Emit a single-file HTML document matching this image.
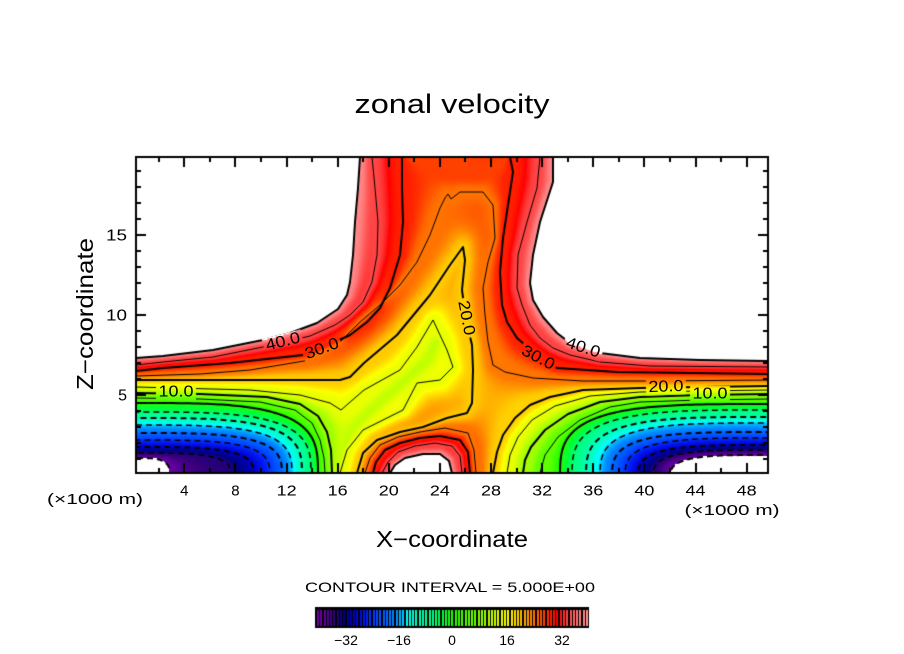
<!DOCTYPE html>
<html><head><meta charset="utf-8">
<style>
html,body{margin:0;padding:0;background:#fff;}
#wrap{position:relative;width:904px;height:654px;overflow:hidden;background:#fff;}
canvas{position:absolute;left:0;top:0;}
svg{position:absolute;left:0;top:0;}
text{font-family:"Liberation Sans",sans-serif;fill:#000;}
</style></head><body>
<div id="wrap">
<canvas id="c" width="904" height="654"></canvas>
<svg width="904" height="654" viewBox="0 0 904 654">
<text x="452" y="113" font-size="27" text-anchor="middle" textLength="195" lengthAdjust="spacingAndGlyphs">zonal velocity</text>
<g font-size="15" text-anchor="middle">
<text x="184.3" y="495.5">4</text>
<text x="235.4" y="495.5">8</text>
<text x="286.6" y="495.5" textLength="20" lengthAdjust="spacingAndGlyphs">12</text>
<text x="337.7" y="495.5" textLength="20" lengthAdjust="spacingAndGlyphs">16</text>
<text x="388.8" y="495.5" textLength="20" lengthAdjust="spacingAndGlyphs">20</text>
<text x="439.9" y="495.5" textLength="20" lengthAdjust="spacingAndGlyphs">24</text>
<text x="491.0" y="495.5" textLength="20" lengthAdjust="spacingAndGlyphs">28</text>
<text x="542.2" y="495.5" textLength="20" lengthAdjust="spacingAndGlyphs">32</text>
<text x="593.3" y="495.5" textLength="20" lengthAdjust="spacingAndGlyphs">36</text>
<text x="644.4" y="495.5" textLength="20" lengthAdjust="spacingAndGlyphs">40</text>
<text x="695.5" y="495.5" textLength="20" lengthAdjust="spacingAndGlyphs">44</text>
<text x="746.6" y="495.5" textLength="20" lengthAdjust="spacingAndGlyphs">48</text>
</g>
<g font-size="16" text-anchor="end">
<text x="127" y="400.5">5</text>
<text x="127" y="320.5" textLength="21" lengthAdjust="spacingAndGlyphs">10</text>
<text x="127" y="240.5" textLength="21" lengthAdjust="spacingAndGlyphs">15</text>
</g>
<text x="95" y="504" font-size="15" text-anchor="middle" textLength="96" lengthAdjust="spacingAndGlyphs">(×1000 m)</text>
<text x="732" y="515" font-size="15" text-anchor="middle" textLength="95" lengthAdjust="spacingAndGlyphs">(×1000 m)</text>
<text x="452" y="547" font-size="23" text-anchor="middle" textLength="152" lengthAdjust="spacingAndGlyphs">X−coordinate</text>
<text transform="translate(93,314) rotate(-90)" font-size="23" text-anchor="middle" textLength="152" lengthAdjust="spacingAndGlyphs">Z−coordinate</text>
<text x="450" y="592" font-size="14" text-anchor="middle" textLength="290" lengthAdjust="spacingAndGlyphs">CONTOUR INTERVAL = 5.000E+00</text>
<g font-size="14" text-anchor="middle">
<text x="346" y="645">−32</text>
<text x="399" y="645">−16</text>
<text x="452" y="645">0</text>
<text x="507" y="645">16</text>
<text x="562" y="645">32</text>
</g>
<g font-size="16" text-anchor="middle" dominant-baseline="central">
<text transform="translate(283,342) rotate(-14)" textLength="35" lengthAdjust="spacingAndGlyphs">40.0</text>
<text transform="translate(322,349) rotate(-20)" textLength="35" lengthAdjust="spacingAndGlyphs">30.0</text>
<text transform="translate(176,392) rotate(0)" textLength="35" lengthAdjust="spacingAndGlyphs">10.0</text>
<text transform="translate(466,318) rotate(79)" textLength="35" lengthAdjust="spacingAndGlyphs">20.0</text>
<text transform="translate(538,358) rotate(28)" textLength="35" lengthAdjust="spacingAndGlyphs">30.0</text>
<text transform="translate(583,348) rotate(18)" textLength="35" lengthAdjust="spacingAndGlyphs">40.0</text>
<text transform="translate(666,387) rotate(-2)" textLength="35" lengthAdjust="spacingAndGlyphs">20.0</text>
<text transform="translate(710,394) rotate(0)" textLength="35" lengthAdjust="spacingAndGlyphs">10.0</text>
</g>
</svg>
</div>
<script>
(function(){
const C=document.getElementById('c');const ctx=C.getContext('2d');
const stops=[
[-42,120,0,170],[-39,100,0,160],[-36,50,0,120],[-33,0,0,128],[-30,0,0,190],[-27,0,20,240],[-24,0,64,255],[-20,0,104,255],[-17,0,144,255],[-15,0,200,255],[-14,0,255,255],[-11,0,255,192],[-6,0,255,128],[-3,0,255,64],[0,32,255,0],[4,80,255,0],[8,128,255,0],[12,192,255,0],[15,232,255,0],[17,255,255,0],[20,255,205,0],[23,255,150,0],[26,255,100,0],[29,255,45,0],[32,255,0,0],[35,255,70,70],[38,255,115,115],[41,255,150,150],[42,255,165,165]];
function cmap(v){
 if(v>41.6||v<-41.6) return [255,255,255];
 if(v<=stops[0][0]) return [stops[0][1],stops[0][2],stops[0][3]];
 for(let i=1;i<stops.length;i++){ if(v<=stops[i][0]){ const a=stops[i-1],b=stops[i]; const t=(v-a[0])/(b[0]-a[0]); return [a[1]+(b[1]-a[1])*t,a[2]+(b[2]-a[2])*t,a[3]+(b[3]-a[3])*t]; } }
 const l=stops[stops.length-1]; return [l[1],l[2],l[3]];
}
const P40L=[[360,157],[358,188],[355,222],[353,255],[350,282],[347,295],[338,309],[317,323],[290,333],[263,340],[213,350],[163,356],[136,358]];
const P40R=[[553,157],[553,182],[540,222],[533,255],[530,283],[533,300],[543,317],[557,333],[570,343],[600,353],[640,358],[700,360],[768,361]];
const P40B=[[390,473],[395,465],[405,458],[423,454],[440,454],[449,461],[452,473]];
const P35L=[[372,157],[375,188],[378,222],[377,255],[372,282],[363,302],[350,315],[335,325],[310,336],[263,347],[213,357],[163,362],[136,365]];
const P35R=[[540,157],[537,188],[527,222],[518,255],[517,288],[522,305],[530,325],[540,338],[553,348],[570,355],[600,362],[650,366],[768,367]];
const P35B=[[382,473],[388,462],[398,452],[415,446],[435,443],[452,446],[460,456],[462,473]];
const P30L=[[402,157],[402,188],[403,222],[400,255],[390,288],[380,308],[367,322],[350,335],[335,342],[303,355],[230,363],[163,368],[136,371]];
const P30R=[[510,157],[513,172],[508,205],[503,238],[500,272],[502,305],[507,322],[517,338],[537,355],[557,368],[617,372],[768,374]];
const P30B=[[373,473],[376,462],[385,450],[400,443],[420,438],[440,436],[460,440],[468,452],[470,473]];
const P25=[[136,376],[200,374],[250,370],[310,360],[340,342],[360,322],[380,305],[400,285],[417,262],[430,235],[440,208],[445,198],[448,194],[451,199],[460,192],[483,192],[493,205],[495,238],[488,262],[483,288],[485,315],[488,342],[493,365],[505,372],[533,378],[583,381],[650,381],[768,380]];
const P25B=[[365,473],[370,458],[380,445],[398,437],[420,432],[445,428],[468,433],[474,450],[476,473]];
const P20=[[136,380],[250,380],[340,380],[350,377],[364,363],[397,335],[430,295],[450,265],[463,247],[465,260],[462,290],[466,320],[472,345],[473,370],[472,403],[467,413],[447,418],[423,427],[400,432],[377,440],[363,453],[357,473]];
const P20R=[[768,386],[700,387],[640,388],[583,390],[550,397],[530,405],[515,418],[503,435],[497,452],[493,473]];
const P15=[[136,387],[250,390],[300,395],[330,403],[341,410],[364,390],[400,370],[417,347],[433,320],[447,350],[453,367],[440,380],[417,383],[403,410],[363,430],[347,450],[340,473]];
const P15R=[[768,390],[700,391],[640,392],[590,396],[555,406],[532,420],[518,437],[510,455],[507,473]];
const P10L=[[136,393],[200,394],[267,397],[300,404],[318,416],[327,432],[331,450],[332,473]];
const P10R=[[768,394],[700,395],[640,397],[600,402],[568,414],[545,430],[531,447],[525,460],[523,473]];
const P5L=[[136,398],[200,399],[260,402],[295,410],[312,423],[320,440],[324,458],[325,473]];
const P5R=[[768,399],[700,400],[640,402],[610,407],[580,420],[558,437],[545,455],[540,473]];
const H12=[[437,342],[425,362],[405,380],[385,397],[368,413],[352,430],[342,450],[336,473]];
const H28=[[410,157],[430,168],[450,175],[480,175],[498,166],[506,157]];
const LINES=[
 {lev:40,pts:P40L},{lev:40,pts:P40R},{lev:40,pts:P40B},
 {lev:35,pts:P35L},{lev:35,pts:P35R},{lev:35,pts:P35B},
 {lev:30,pts:P30L},{lev:30,pts:P30R},{lev:30,pts:P30B},
 {lev:25,pts:P25},{lev:25,pts:P25B},
 {lev:20,pts:P20},{lev:20,pts:P20R},
 {lev:15,pts:P15},{lev:15,pts:P15R},
 {lev:10,pts:P10L},{lev:10,pts:P10R},
 {lev:5,pts:P5L},{lev:5,pts:P5R}
];
const LV=[0,-5,-10,-15,-20,-25,-30,-35,-40];
const LOBES=[
 {cx:136,cy:478,p:3.5,s:1,a:[182,175,166,156,146,134,118,95,34],b:[75,66,60,53,45,38,31,25,20]},
 {cx:768,cy:480,p:3.5,s:-1,a:[208,196,182,168,156,143,130,115,98],b:[76,70,63,57,48,42,35,30,25]}
];
function lobePts(L,k,n){const pts=[];for(let i=0;i<=n;i++){const th=i/n*Math.PI/2;const c=Math.cos(th),s=Math.sin(th);const dh=L.a[k]*Math.pow(Math.max(c,0),2/L.p),dv=L.b[k]*Math.pow(Math.max(s,0),2/L.p);pts.push([L.cx+L.s*dh,L.cy-dv]);}return pts;}
function lobeVal(L,X,Y){
 const dh=Math.abs(X-L.cx)+1e-9,dv=Math.abs(Y-L.cy)+1e-9,p=L.p;
 const r0=Math.pow(Math.pow(dh/L.a[0],p)+Math.pow(dv/L.b[0],p),1/p);
 if(r0>1) return null;
 let rk=r0;
 for(let k=1;k<LV.length;k++){
  const r=Math.pow(Math.pow(dh/L.a[k],p)+Math.pow(dv/L.b[k],p),1/p);
  if(r>1){const t=(1-rk)/(r-rk);return LV[k-1]+(LV[k]-LV[k-1])*t;}
  rk=r;
 }
 return -46;
}
const ALL=LINES.slice();
ALL.push({lev:12,pts:H12});
ALL.push({lev:28,pts:H28});
for(const L of LOBES) ALL.push({lev:0,pts:lobePts(L,0,50)});
function segD2(px,py,ax,ay,bx,by){const dx=bx-ax,dy=by-ay;let t=((px-ax)*dx+(py-ay)*dy)/(dx*dx+dy*dy);t=t<0?0:t>1?1:t;const ex=ax+t*dx-px,ey=ay+t*dy-py;return ex*ex+ey*ey;}
function idw(X,Y){let sw=0,sv=0;for(const P of ALL){const pts=P.pts;let m=1e12;for(let i=0;i<pts.length-1;i++){const d=segD2(X,Y,pts[i][0],pts[i][1],pts[i+1][0],pts[i+1][1]);if(d<m)m=d;}if(m<0.3)m=0.3;const w=1/m;sw+=w;sv+=w*P.lev;}return sv/sw;}
function inPoly(X,Y,poly){let c=false;for(let i=0,j=poly.length-1;i<poly.length;j=i++){const xi=poly[i][0],yi=poly[i][1],xj=poly[j][0],yj=poly[j][1];if(((yi>Y)!=(yj>Y))&&(X<(xj-xi)*(Y-yi)/(yj-yi)+xi))c=!c;}return c;}
const WL=P40L.concat([[130,157],[130,150],[360,150]]);
const WR=P40R.concat([[775,361],[775,150],[553,150]]);
const WB=P40B.concat([[452,480],[390,480]]);
function field(X,Y){
 for(const L of LOBES){const v=lobeVal(L,X,Y);if(v!==null)return v;}
 if(inPoly(X,Y,WL)||inPoly(X,Y,WR)||inPoly(X,Y,WB))return 46;
 return idw(X,Y);
}
const GX=317,GY=159;const G=new Float32Array(GX*GY);
for(let j=0;j<GY;j++)for(let i=0;i<GX;i++)G[j*GX+i]=field(136+2*i,157+2*j);
const W=632,H=316;const img=ctx.createImageData(W,H);const d=img.data;
for(let y=0;y<H;y++){const gy=(y+0.5)/2;let j0=Math.floor(gy);let ty=gy-j0;if(j0>=GY-1){j0=GY-2;ty=1;}
 for(let x=0;x<W;x++){const gx=(x+0.5)/2;let i0=Math.floor(gx);let tx=gx-i0;if(i0>=GX-1){i0=GX-2;tx=1;}
  const v00=G[j0*GX+i0],v10=G[j0*GX+i0+1],v01=G[(j0+1)*GX+i0],v11=G[(j0+1)*GX+i0+1];
  const v=(v00*(1-tx)+v10*tx)*(1-ty)+(v01*(1-tx)+v11*tx)*ty;
  const c=cmap(v);const o=(y*W+x)*4;d[o]=c[0];d[o+1]=c[1];d[o+2]=c[2];d[o+3]=255;}}
ctx.putImageData(img,136,157);
const LABELS=[[283,342,-14],[322,349,-20],[176,392,0],[466,318,79],[538,358,28],[583,348,18],[666,387,-2],[710,394,0]];
ctx.save();ctx.beginPath();ctx.rect(136,157,632,316);
for(const lb of LABELS){const a=lb[2]*Math.PI/180,ca=Math.cos(a),sa=Math.sin(a),hw=20,hh=8;
 const cs=[[-hw,-hh],[hw,-hh],[hw,hh],[-hw,hh]];
 cs.forEach((p,k)=>{const X=lb[0]+p[0]*ca-p[1]*sa,Y=lb[1]+p[0]*sa+p[1]*ca;if(k==0)ctx.moveTo(X,Y);else ctx.lineTo(X,Y);});ctx.closePath();}
ctx.clip('evenodd');
ctx.strokeStyle='#000';ctx.lineJoin='round';ctx.lineCap='butt';
function drawPts(pts){ctx.beginPath();pts.forEach((p,k)=>{if(k==0)ctx.moveTo(p[0],p[1]);else ctx.lineTo(p[0],p[1]);});ctx.stroke();}
for(const P of LINES){ctx.setLineDash([]);ctx.lineWidth=(P.lev%10==0)?2:1;drawPts(P.pts);}
for(const L of LOBES){
 ctx.setLineDash([]);ctx.lineWidth=2;drawPts(lobePts(L,0,80));
 for(let k=1;k<LV.length;k++){ctx.setLineDash([6,4]);ctx.lineWidth=(LV[k]%10==0)?2:1.5;drawPts(lobePts(L,k,80));}
}
ctx.restore();ctx.setLineDash([]);
ctx.fillStyle='#000';
for(let v=2;v<=48;v+=2){const x=Math.round(133.2+12.78*v);const L=(v%4==0)?10:5;ctx.fillRect(x-1,157,2,L);ctx.fillRect(x-1,473-L,2,L);}
for(let z=1;z<=19;z++){const y=475-16*z;const L=(z%5==0)?10:5;ctx.fillRect(136,y-1,L,2);ctx.fillRect(768-L,y-1,L,2);}
ctx.lineWidth=2;ctx.strokeStyle='#000';ctx.strokeRect(136,157,632,316);
ctx.fillStyle='#000';ctx.fillRect(315,607,274,21);
for(let k=0;k<=82;k++){const v=-41+k;const c=cmap(v);ctx.fillStyle='rgb('+Math.round(c[0])+','+Math.round(c[1])+','+Math.round(c[2])+')';ctx.fillRect(Math.round(317+k*3.28),610,2,16);}
})();
</script>
</body></html>
